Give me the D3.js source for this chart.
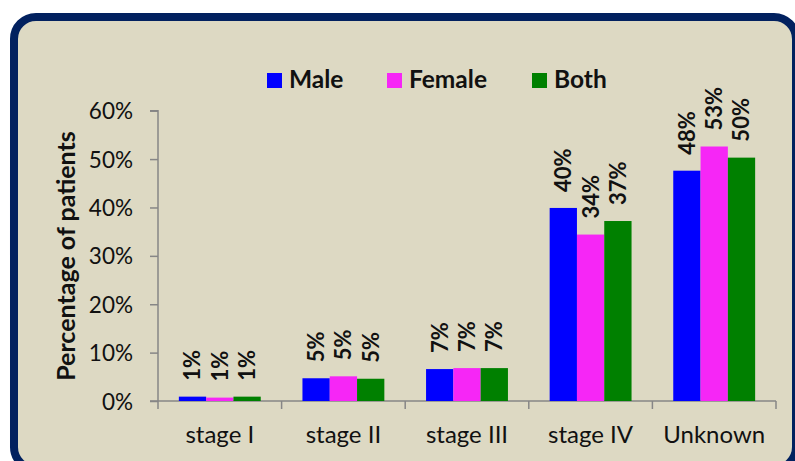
<!DOCTYPE html>
<html><head><meta charset="utf-8">
<script src="https://cdn.jsdelivr.net/npm/d3@7"></script>
<style>html,body{margin:0;padding:0;background:#fff;overflow:hidden}</style>
</head><body><svg id="c" width="795" height="461"></svg>
<script>
const categories = ["stage I","stage II","stage III","stage IV","Unknown"];
const seriesNames = ["Male","Female","Both"];
const male   = [0.9, 4.7, 6.6, 39.9, 47.6];
const female = [0.7, 5.1, 6.8, 34.4, 52.6];
const both   = [0.9, 4.6, 6.8, 37.2, 50.3];
const yTicks = [0,10,20,30,40,50,60];
const colors = ["#0000ff","#f626f6","#008000"];
const values = [male, female, both];

const svg = d3.select("#c");
const FONT = "Lato, 'Open Sans', sans-serif";

// frame
svg.append("rect").attr("x",14).attr("y",17).attr("width",782).attr("height",452)
  .attr("rx",22).attr("fill","#ddd9c3").attr("stroke","#02215f").attr("stroke-width",8);

const y = d3.scaleLinear().domain([0,60]).range([401,110.7]);
const x = d3.scaleBand().domain(categories).range([158,776]).paddingInner(0).paddingOuter(0);
const xs = d3.scaleBand().domain(seriesNames).range([0,x.bandwidth()]).paddingInner(0).paddingOuter(0.764);

// y axis
const yAxis = svg.append("g").attr("transform","translate(158,0)")
  .call(d3.axisLeft(y).tickValues(yTicks).tickSize(8).tickPadding(17).tickFormat(d=>d+"%"));
yAxis.select(".domain").attr("stroke","#868686").attr("stroke-width",1.5).attr("d","M-8,110.7H0V401");
yAxis.selectAll(".tick line").attr("stroke","#868686").attr("stroke-width",1.5);
yAxis.selectAll(".tick text").attr("font-family",FONT).attr("font-size",22.5).attr("fill","#111").attr("dy","0.36em");

// x axis
const bounds = categories.map(c=>x(c)).concat([x(categories[categories.length-1])+x.bandwidth()]);
const xAxis = svg.append("g").attr("transform","translate(0,401)");
xAxis.append("line").attr("x1",150).attr("x2",776).attr("y1",0).attr("y2",0).attr("stroke","#868686").attr("stroke-width",1.5);
xAxis.selectAll("line.tk").data(bounds).join("line").attr("class","tk")
  .attr("x1",d=>d).attr("x2",d=>d).attr("y1",0).attr("y2",8).attr("stroke","#868686").attr("stroke-width",1.5);
xAxis.selectAll("text").data(categories).join("text")
  .attr("x",d=>x(d)+x.bandwidth()/2).attr("y",42).attr("text-anchor","middle")
  .attr("font-family",FONT).attr("font-size",24).attr("fill","#111").text(d=>d);

// bars
const g = svg.append("g");
seriesNames.forEach((s,si)=>{
  g.selectAll("rect.s"+si).data(values[si]).join("rect").attr("class","s"+si)
    .attr("x",(d,i)=>x(categories[i])+xs(s)).attr("width",xs.bandwidth())
    .attr("y",d=>y(d)).attr("height",d=>y(0)-y(d)).attr("fill",colors[si]);
});
seriesNames.forEach((s,si)=>{
  g.selectAll("text.l"+si).data(values[si]).join("text").attr("class","l"+si)
    .attr("transform",(d,i)=>`translate(${x(categories[i])+xs(s)+xs.bandwidth()/2},${y(d)-16}) rotate(-90)`)
    .attr("dy","0.36em").attr("font-family",FONT).attr("font-weight","bold").attr("font-size",22)
    .attr("fill","#111").text(d=>Math.round(d)+"%");
});

// y title
svg.append("text").attr("transform","translate(66,256) rotate(-90)").attr("text-anchor","middle")
  .attr("dy","0.36em").attr("font-family",FONT).attr("font-weight","bold").attr("font-size",25).attr("fill","#111")
  .text("Percentage of patients");

// legend
const legX = [267,387,532];
const leg = svg.append("g");
seriesNames.forEach((s,i)=>{
  leg.append("rect").attr("x",legX[i]).attr("y",73).attr("width",15).attr("height",15).attr("fill",colors[i]);
  leg.append("text").attr("x",legX[i]+22).attr("y",88).attr("font-family",FONT).attr("font-weight","bold")
    .attr("font-size",24.5).attr("fill","#111").text(s);
});
</script></body></html>
